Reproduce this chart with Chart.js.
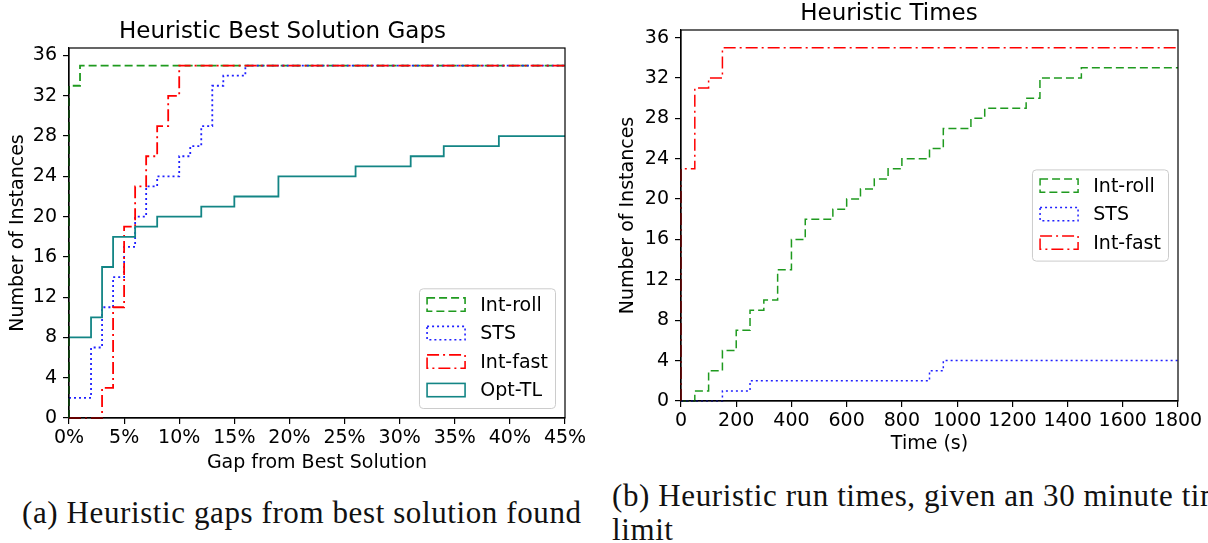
<!DOCTYPE html>
<html><head><meta charset="utf-8">
<script src="https://cdn.jsdelivr.net/npm/chart.js@4/dist/chart.umd.min.js"></script>
<style>
html,body{margin:0;padding:0;background:#fff;width:1208px;height:543px;overflow:hidden;position:relative;}
#ca{position:absolute;left:0;top:0;}
#cb{position:absolute;left:600px;top:0;}
.cap{position:absolute;font-family:"Liberation Serif",serif;font-size:31px;letter-spacing:0.6px;color:#111;white-space:nowrap;line-height:34px;}
</style></head><body>
<canvas id="ca" width="600" height="474"></canvas>
<canvas id="cb" width="608" height="455"></canvas>
<div class="cap" style="left:22px;top:496px">(a) Heuristic gaps from best solution found</div>
<div class="cap" style="left:612px;top:479px">(b) Heuristic run times, given an 30 minute time<br>limit</div>
<script>
// ---------- data ----------
const seriesNames = ['Int-roll', 'STS', 'Int-fast', 'Opt-TL'];
const countTicks = [0, 4, 8, 12, 16, 20, 24, 28, 32, 36];
const gapTicks = [0, 5, 10, 15, 20, 25, 30, 35, 40, 45];
const timeTicks = [0, 200, 400, 600, 800, 1000, 1200, 1400, 1600, 1800];

// (a) gap from best solution (%) -> number of instances
const gapIntRollX = [0, 0, 1, 45];
const gapIntRollY = [0, 33, 35, 35];
const gapStsX = [0, 2, 3, 4, 5, 6, 7, 8, 10, 11, 12, 13, 14, 16, 45];
const gapStsY = [2, 7, 11, 14, 17, 20, 23, 24, 26, 27, 29, 33, 34, 35, 35];
const gapIntFastX = [0, 3, 4, 5, 6, 7, 8, 9, 10, 45];
const gapIntFastY = [0, 3, 11, 19, 23, 26, 29, 32, 35, 35];
const gapOptTlX = [0, 2, 3, 4, 6, 8, 12, 15, 19, 26, 31, 34, 39, 45];
const gapOptTlY = [8, 10, 15, 18, 19, 20, 21, 22, 24, 25, 26, 27, 28, 28];

// (b) run time (s) -> number of instances
const timeIntRollX = [0, 50, 100, 150, 200, 250, 300, 350, 400, 450, 550, 600, 650, 700, 750, 800, 900, 950, 1050, 1100, 1250, 1300, 1450, 1800];
const timeIntRollY = [0, 1, 3, 5, 7, 9, 10, 13, 16, 18, 19, 20, 21, 22, 23, 24, 25, 27, 28, 29, 30, 32, 33, 33];
const timeStsX = [0, 150, 250, 900, 950, 1800];
const timeStsY = [0, 1, 2, 3, 4, 4];
const timeIntFastX = [0, 0, 50, 100, 150, 1800];
const timeIntFastY = [0, 23, 31, 32, 35, 35];

// ---------- styles ----------
const FONT = 'DejaVu Sans';
const styles = {
  'Int-roll': {color: '#1f9a1f', dash: [8, 4]},
  'STS': {color: '#2020ff', dash: [2, 3]},
  'Int-fast': {color: '#ff0000', dash: [12, 4, 2, 4]},
  'Opt-TL': {color: '#138585', dash: []}
};

function pts(xs, ys) { return xs.map((x, i) => ({x: x, y: ys[i]})); }
function ds(name, xs, ys, lw, order) {
  return {
    label: name, data: pts(xs, ys), stepped: 'before', borderColor: styles[name].color,
    borderDash: styles[name].dash, borderWidth: lw, pointRadius: 0, fill: false,
    tension: 0, order: order, clip: 4
  };
}

const framePlugin = {
  id: 'frame',
  afterDatasetsDraw(chart) {
    const {ctx, chartArea: a} = chart;
    ctx.save(); ctx.strokeStyle = '#000'; ctx.lineWidth = 1.2;
    ctx.strokeRect(a.left, a.top, a.right - a.left, a.bottom - a.top);
    ctx.restore();
  }
};
const boxLegend = {
  id: 'boxLegend',
  afterDatasetsDraw(chart, args, opts) {
    const {ctx, chartArea: a} = chart;
    const fs = opts.fontSize, list = chart.data.datasets;
    ctx.save();
    ctx.font = fs + 'px "' + FONT + '"';
    const pad = 0.4 * fs, hl = 2 * fs, htp = 0.8 * fs, row = 1.5 * fs, hh = 0.7 * fs;
    const tw = Math.max(...list.map(d => ctx.measureText(d.label).width));
    const w = 2 * pad + hl + htp + tw;
    const h = list.length * row - 0.5 * fs + 2 * pad;
    const x0 = a.right - 0.5 * fs - w;
    const y0 = opts.loc === 'lower right' ? a.bottom - 0.5 * fs - h : (a.top + a.bottom) / 2 - h / 2;
    ctx.beginPath();
    ctx.roundRect(x0, y0, w, h, 0.2 * fs);
    ctx.fillStyle = 'rgba(255,255,255,0.8)'; ctx.fill();
    ctx.strokeStyle = '#cccccc'; ctx.lineWidth = 1; ctx.stroke();
    list.forEach((d, i) => {
      const cy = y0 + 0.83 * fs + i * row;
      ctx.save();
      ctx.strokeStyle = d.borderColor; ctx.lineWidth = Math.min(d.borderWidth, 1.6);
      ctx.setLineDash(d.borderDash);
      ctx.strokeRect(x0 + pad, cy - hh / 2, hl, hh);
      ctx.restore();
      ctx.fillStyle = '#000'; ctx.textBaseline = 'middle'; ctx.textAlign = 'left';
      ctx.fillText(d.label, x0 + pad + hl + htp, cy + 1);
    });
    ctx.restore();
  }
};

function axisCommon(tickList, fmt) {
  return {
    type: 'linear',
    afterBuildTicks: s => { s.ticks = tickList.map(v => ({value: v})); },
    ticks: {font: {family: FONT, size: 19}, color: '#000', padding: 3, autoSkip: false, maxRotation: 0, callback: fmt},
    grid: {display: true, drawOnChartArea: false, drawTicks: true, tickLength: 6, color: '#000', lineWidth: 1.2},
    border: {display: true, color: '#000', width: 1.2}
  };
}

function makeChart(id, cfg) {
  const xs = axisCommon(cfg.xTicks, cfg.xFmt);
  Object.assign(xs, {min: cfg.xMin, max: cfg.xMax, afterFit: s => { s.height = cfg.xH; },
    title: {display: true, text: cfg.xTitle, color: '#000', font: {family: FONT, size: 19}, padding: {top: 0, bottom: 0}}});
  const ys = axisCommon(countTicks, v => String(v));
  ys.ticks.padding = 6;
  Object.assign(ys, {min: 0, max: 36.75, afterFit: s => { s.width = cfg.yW; },
    title: {display: true, text: 'Number of Instances', color: '#000', font: {family: FONT, size: 19}, padding: {top: cfg.yTitlePad, bottom: 0}}});
  return new Chart(document.getElementById(id), {
    type: 'line',
    data: {datasets: cfg.datasets},
    options: {
      responsive: false, animation: false, devicePixelRatio: 1,
      layout: {padding: {left: 0, right: cfg.padRight, top: 0, bottom: 0}},
      scales: {x: xs, y: ys},
      plugins: {
        legend: {display: false}, tooltip: {enabled: false},
        title: {display: true, text: cfg.title, color: '#000', font: {family: FONT, size: 23, weight: 'normal'}, padding: cfg.titlePad},
        boxLegend: {fontSize: 19, loc: cfg.loc}
      }
    },
    plugins: [framePlugin, boxLegend]
  });
}

makeChart('ca', {
  title: 'Heuristic Best Solution Gaps', titlePad: {top: 18.2, bottom: 2.2},
  xTitle: 'Gap from Best Solution', xTicks: gapTicks, xFmt: v => v + '%', xMin: 0, xMax: 45,
  xH: 56, yW: 69, yTitlePad: 6.6, padRight: 35, loc: 'lower right',
  datasets: [
    ds(seriesNames[0], gapIntRollX, gapIntRollY, 1.8, 4),
    ds(seriesNames[1], gapStsX, gapStsY, 1.8, 3),
    ds(seriesNames[2], gapIntFastX, gapIntFastY, 1.8, 2),
    ds(seriesNames[3], gapOptTlX, gapOptTlY, 1.8, 1)
  ]
});
makeChart('cb', {
  title: 'Heuristic Times', titlePad: {top: 0.2, bottom: 2.2},
  xTitle: 'Time (s)', xTicks: timeTicks, xFmt: v => String(v), xMin: 0, xMax: 1800,
  xH: 54, yW: 81, yTitlePad: 16.6, padRight: 30, loc: 'center right',
  datasets: [
    ds(seriesNames[0], timeIntRollX, timeIntRollY, 1.5, 3),
    ds(seriesNames[1], timeStsX, timeStsY, 1.5, 2),
    ds(seriesNames[2], timeIntFastX, timeIntFastY, 1.5, 1)
  ]
});
</script>
</body></html>
